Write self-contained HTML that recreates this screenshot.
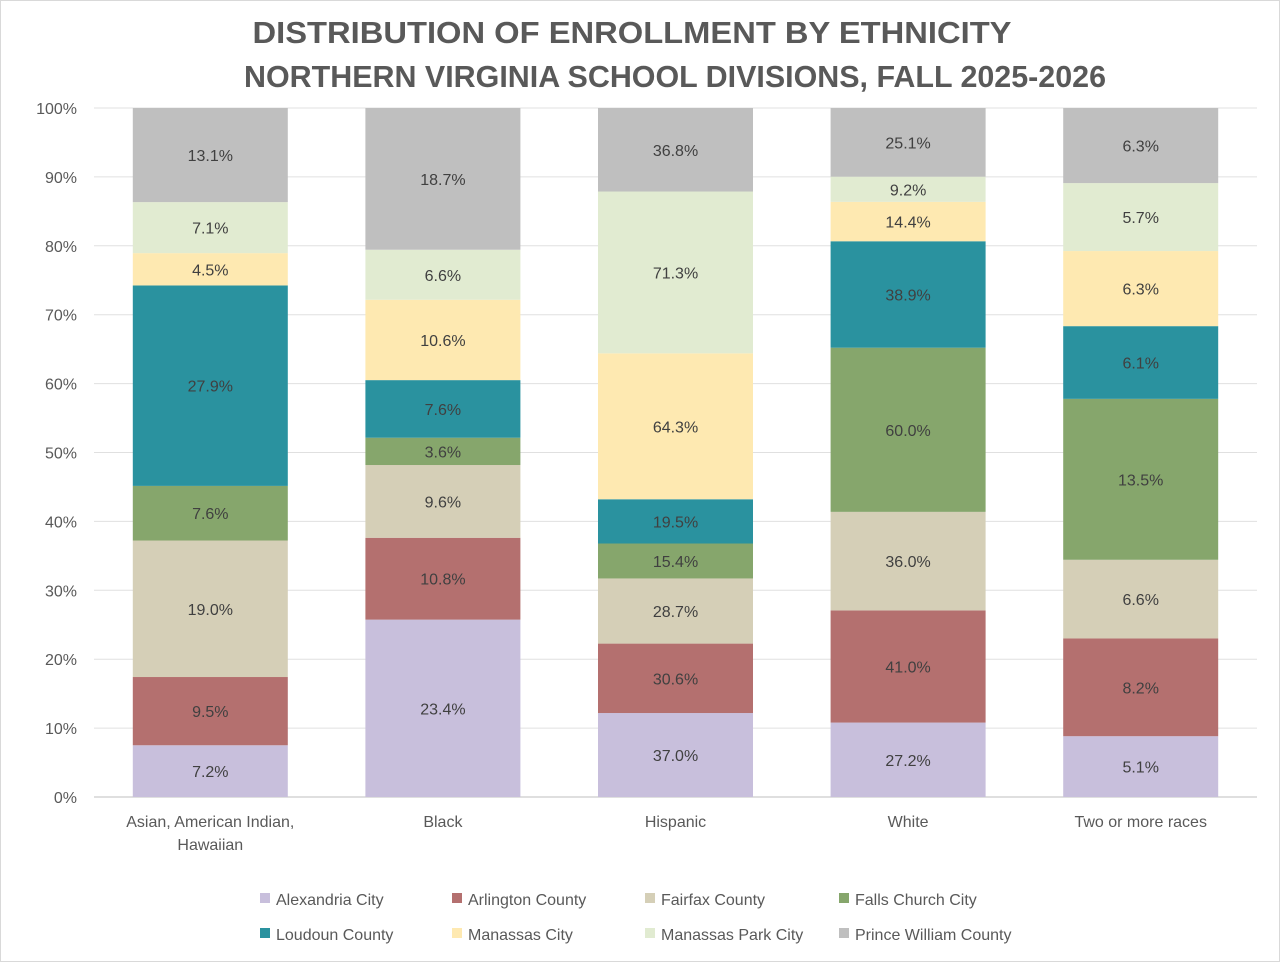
<!DOCTYPE html>
<html><head><meta charset="utf-8">
<style>
body{margin:0;background:#fff;}
svg{display:block;font-family:"Liberation Sans",Calibri,sans-serif;}
</style></head>
<body>
<svg id="chart" width="1280" height="962" viewBox="0 0 1280 962">
<rect x="0.5" y="0.5" width="1279" height="961" fill="#fff" stroke="#d9d9d9"/>
<text x="632" y="43" text-anchor="middle" font-size="31" font-weight="bold" fill="#595959" textLength="759" lengthAdjust="spacingAndGlyphs">DISTRIBUTION OF ENROLLMENT BY ETHNICITY</text>
<text x="675" y="87" text-anchor="middle" font-size="31" font-weight="bold" fill="#595959" textLength="862" lengthAdjust="spacingAndGlyphs">NORTHERN VIRGINIA SCHOOL DIVISIONS, FALL 2025-2026</text>
<g id="grid"></g><g id="bars"></g><g id="axes"></g><g id="legend"></g>
</svg>
<script>
const categories=[["Asian, American Indian,","Hawaiian"],["Black"],["Hispanic"],["White"],["Two or more races"]];
const seriesNames=["Alexandria City","Arlington County","Fairfax County","Falls Church City","Loudoun County","Manassas City","Manassas Park City","Prince William County"];
const alexandria=[7.2,23.4,37.0,27.2,5.1];
const arlington=[9.5,10.8,30.6,41.0,8.2];
const fairfax=[19.0,9.6,28.7,36.0,6.6];
const fallsChurch=[7.6,3.6,15.4,60.0,13.5];
const loudoun=[27.9,7.6,19.5,38.9,6.1];
const manassas=[4.5,10.6,64.3,14.4,6.3];
const manassasPark=[7.1,6.6,71.3,9.2,5.7];
const princeWilliam=[13.1,18.7,36.8,25.1,6.3];
const yTicks=[0,10,20,30,40,50,60,70,80,90,100];
const colors=["#c8bfdc","#b4706f","#d5cfb7","#86a66c","#2a929f","#fee9b1","#e1ebd1","#bfbfbf"];
const series=[alexandria,arlington,fairfax,fallsChurch,loudoun,manassas,manassasPark,princeWilliam];
const NS="http://www.w3.org/2000/svg";
const L=94,R=1257,T=108,B=797,bw=155;
const step=(R-L)/categories.length;
const y=v=>B-(B-T)*v/100;
const xc=i=>L+step*(i+0.5);
function mk(tag,attrs,parent,txt){const e=document.createElementNS(NS,tag);for(const k in attrs)e.setAttribute(k,attrs[k]);if(txt!==undefined)e.textContent=txt;parent.appendChild(e);return e;}
const grid=document.getElementById('grid'),bars=document.getElementById('bars'),axes=document.getElementById('axes'),leg=document.getElementById('legend');
yTicks.forEach(t=>{
 const l=mk('line',{x1:L,x2:R,y1:y(t),y2:y(t),stroke:t===0?'#bfbfbf':'#e0e0e0','stroke-width':1},grid);
 
 
 const tx=mk('text',{x:77,y:y(t)+6,'text-anchor':'end','font-size':16,fill:'#595959'},axes,t+'%');
 
 
});
categories.forEach((c,i)=>{
 let total=0;series.forEach(s=>total+=s[i]);
 let acc=0;
 series.forEach((s,j)=>{
  const h0=acc/total*100;acc+=s[i];const h1=acc/total*100;
  const r=mk('rect',{x:xc(i)-bw/2,y:y(h1),width:bw,height:y(h0)-y(h1),fill:colors[j]},bars);
  
  
  const t=mk('text',{x:xc(i),y:(y(h0)+y(h1))/2+6,'text-anchor':'middle','font-size':16,fill:'#404040'},bars,s[i].toFixed(1)+'%');
  
  
 });
 c.forEach((line,k)=>{
  const t=mk('text',{x:xc(i),y:827+k*23,'text-anchor':'middle','font-size':16,fill:'#595959'},axes,line);
  
  
 });
});
const lx=[262,454,647,841];
seriesNames.forEach((n,j)=>{
 const gx=lx[j%4],gy=j<4?899:934;
 const g=mk('g',{},leg);
 
 
 mk('rect',{x:gx-2,y:gy-6,width:10,height:10,fill:colors[j]},g);
 mk('text',{x:gx+14,y:gy+6,'font-size':16,fill:'#595959'},g,n);
});
</script>
</body></html>
